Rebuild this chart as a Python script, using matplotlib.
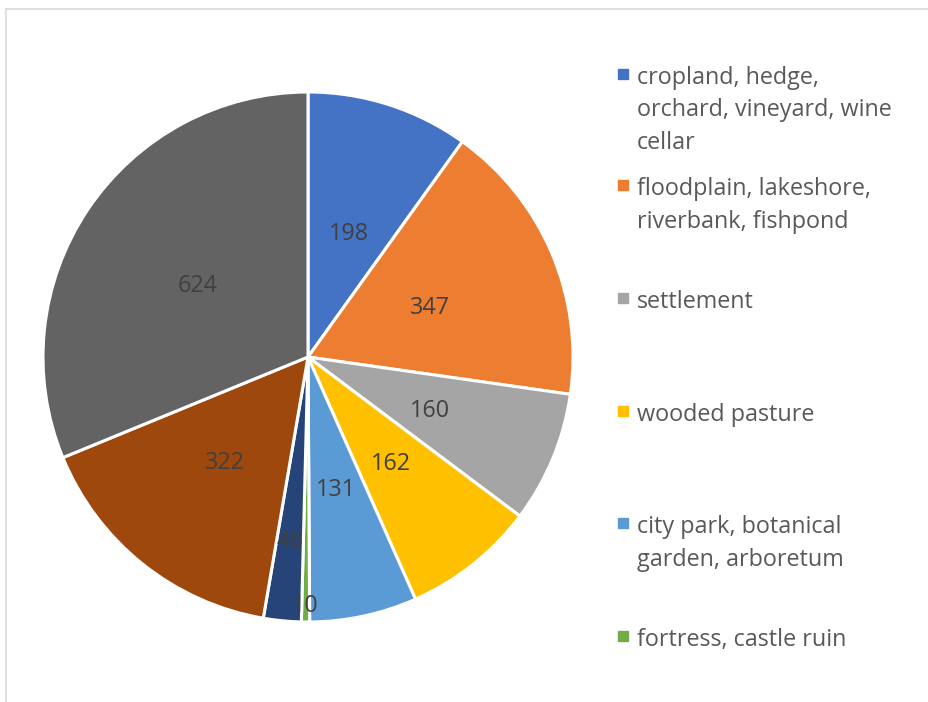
import matplotlib
matplotlib.use("Agg")
import matplotlib.pyplot as plt
from matplotlib.patches import Rectangle
from matplotlib.lines import Line2D
import numpy as np

categories = [
    "cropland, hedge,\norchard, vineyard, wine\ncellar",
    "floodplain, lakeshore,\nriverbank, fishpond",
    "settlement",
    "wooded pasture",
    "city park, botanical\ngarden, arboretum",
    "fortress, castle ruin",
    "other 1",
    "other 2",
    "other 3",
]
values = [198, 347, 160, 162, 131, 10, 46, 322, 624]
colors = ["#4472C4", "#ED7D31", "#A5A5A5", "#FFC000", "#5B9BD5",
          "#70AD47", "#264478", "#9E480E", "#636363"]
# radial position of each value label (fraction of radius)
label_radius = [0.5, 0.5, 0.5, 0.5, 0.5, 0.93, 0.69, 0.5, 0.5]
# legend shows the first six categories
legend_count = 6

W, H = 929, 702
fig = plt.figure(figsize=(W / 100, H / 100), dpi=100)
FONT = ["Open Sans", "DejaVu Sans"]
TEXT = "#595959"

# chart frame (left and top edges visible)
fig.add_artist(Line2D([6.5 / W, 6.5 / W], [0, 1 - 8.5 / H], color="#D9D9D9",
                      lw=1.2, transform=fig.transFigure))
fig.add_artist(Line2D([6.5 / W, 1], [1 - 8.5 / H, 1 - 8.5 / H], color="#D9D9D9",
                      lw=1.2, transform=fig.transFigure))

# pie area: centre (308, 357), radius 265 px
cx, cy, r = 308, 357, 265
ax = fig.add_axes([(cx - r) / W, 1 - (cy + r) / H, 2 * r / W, 2 * r / H])
wedges, _ = ax.pie(values, colors=colors, startangle=90, counterclock=False,
                   radius=1.0,
                   wedgeprops=dict(edgecolor="white", linewidth=2.2))
ax.set_xlim(-1, 1)
ax.set_ylim(-1, 1)
ax.set_aspect("equal")
ax.axis("off")

for w, v, lr in zip(wedges, values, label_radius):
    ang = np.deg2rad((w.theta1 + w.theta2) / 2)
    ax.text(lr * np.cos(ang), lr * np.sin(ang), str(v), ha="center",
            va="center_baseline", fontsize=16.8, color="#404040", family=FONT)

# legend entries: first-line baseline y (px)
legend_baselines = [84, 195, 308, 421, 533, 646]
line_step = 32.5
for i in range(legend_count):
    lines = categories[i].split("\n")
    b = legend_baselines[i]
    fig.add_artist(Rectangle((618 / W, 1 - 80 / H - (b - 85) / H), 10 / W, 10 / H,
                             color=colors[i], transform=fig.transFigure))
    for j, ln in enumerate(lines):
        y = b + j * line_step
        fig.text(637 / W, 1 - y / H, ln, ha="left", va="baseline",
                 fontsize=16.8, color=TEXT, family=FONT)

fig.savefig("out.png", dpi=100, facecolor="white")
